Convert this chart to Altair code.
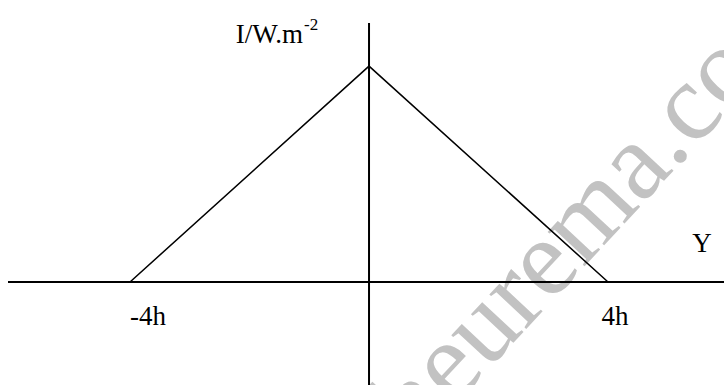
import altair as alt
import pandas as pd

# Intensity profile: triangle between -4h and 4h, peak at the origin
pos_h = [-4, 0, 4]
intensity = [0, 1, 0]

tick_values = [-4, 4]
tick_labels = ["-4h", "4h"]
tick_dx = [18, 7]

FONT = "Liberation Serif"
W, H = 724, 385

# data window (units of h horizontally, relative intensity vertically)
xs = alt.Scale(domain=[-6.176, 5.941], nice=False, zero=False)
ys = alt.Scale(domain=[-0.477, 1.306], nice=False, zero=False)

profile = pd.DataFrame({"pos": pos_h, "I": intensity})
ticks = pd.DataFrame({"pos": tick_values, "label": tick_labels})

watermark = alt.Chart(pd.DataFrame({"t": ["theurema.com"]})).mark_text(
    font=FONT, fontSize=110, color="#c2c2c2", angle=313,
    align="center", baseline="alphabetic",
).encode(x=alt.value(609), y=alt.value(240), text="t:N")

x_axis = alt.Chart(pd.DataFrame({"I": [0]})).mark_rule(
    color="black", strokeWidth=2
).encode(
    y=alt.Y("I:Q", scale=ys, axis=None), x=alt.value(8), x2=alt.value(W)
)

y_axis = alt.Chart(pd.DataFrame({"pos": [0]})).mark_rule(
    color="black", strokeWidth=2
).encode(
    x=alt.X("pos:Q", scale=xs, axis=None), y=alt.value(23), y2=alt.value(H)
)

line = alt.Chart(profile).mark_line(color="black", strokeWidth=1.5).encode(
    x=alt.X("pos:Q", scale=xs, axis=None),
    y=alt.Y("I:Q", scale=ys, axis=None),
)

labels = [
    alt.Chart(ticks.iloc[[i]]).mark_text(
        font=FONT, fontSize=27, color="black", align="center",
        baseline="alphabetic", dx=tick_dx[i],
    ).encode(x=alt.X("pos:Q", scale=xs, axis=None), y=alt.value(325), text="label:N")
    for i in range(len(tick_values))
]

y_letter = alt.Chart(pd.DataFrame({"t": ["Y"]})).mark_text(
    font=FONT, fontSize=27, color="black", align="center", baseline="alphabetic"
).encode(x=alt.value(702), y=alt.value(252), text="t:N")

i_label = alt.Chart(pd.DataFrame({"t": ["I/W.m"]})).mark_text(
    font=FONT, fontSize=27, color="black", align="right", baseline="alphabetic"
).encode(x=alt.value(303), y=alt.value(43), text="t:N")

i_exp = alt.Chart(pd.DataFrame({"t": ["-2"]})).mark_text(
    font=FONT, fontSize=17, color="black", align="left", baseline="alphabetic"
).encode(x=alt.value(304), y=alt.value(30), text="t:N")

chart = alt.layer(
    watermark, x_axis, y_axis, line, *labels, y_letter, i_label, i_exp
).properties(
    width=W, height=H, padding=0, autosize="none", background="white"
).configure_view(stroke=None)

chart.save("out.html", embed_options={"renderer": "svg", "actions": False})
